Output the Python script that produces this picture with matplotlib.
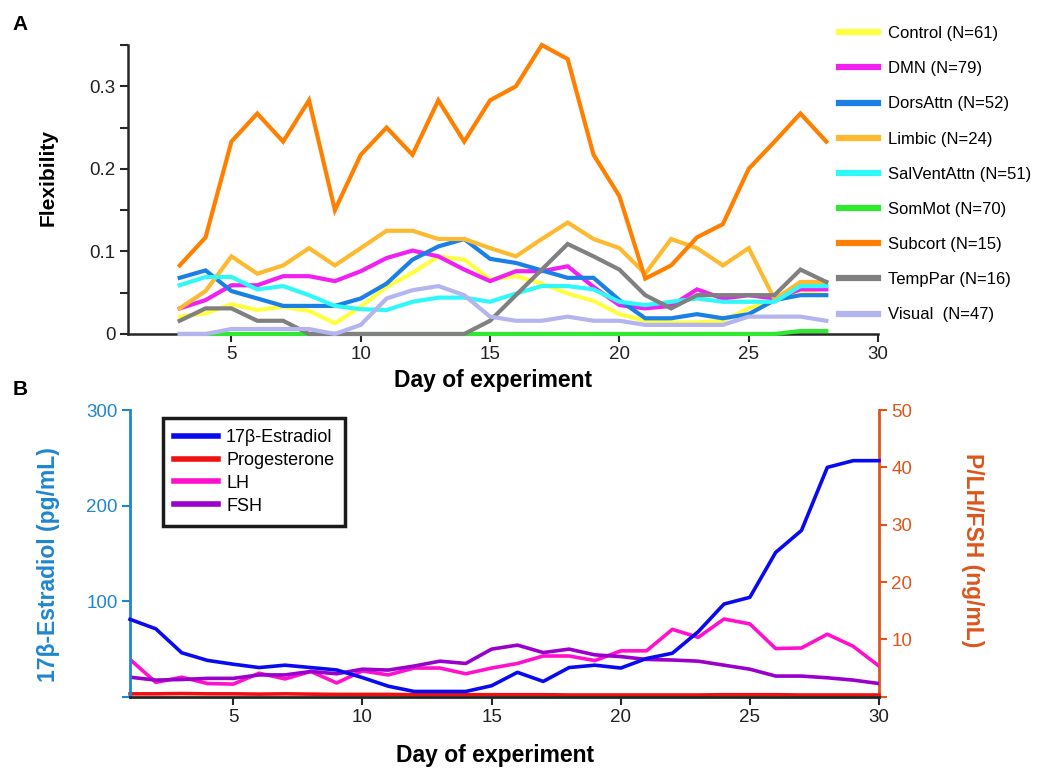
import matplotlib
matplotlib.use("Agg")
import matplotlib.pyplot as plt
import numpy as np

plt.rcParams['font.family'] = ['Liberation Sans', 'DejaVu Sans']

# ---------------- Panel A: network flexibility ----------------
days_a = list(range(3, 29))
networks = ["Control (N=61)", "DMN (N=79)", "DorsAttn (N=52)", "Limbic (N=24)",
            "SalVentAttn (N=51)", "SomMot (N=70)", "Subcort (N=15)",
            "TempPar (N=16)", "Visual  (N=47)"]
net_colors = ['#FFFF40', '#F020F0', '#1A80E6', '#FDBA30', '#30F8F8',
              '#30E830', '#FF8000', '#808080', '#B4B4EE']

control = [0.021, 0.025, 0.036, 0.029, 0.033, 0.028, 0.013, 0.033, 0.057, 0.074,
           0.094, 0.090, 0.066, 0.070, 0.061, 0.049, 0.040, 0.024, 0.016, 0.014,
           0.014, 0.016, 0.031, 0.041, 0.053, 0.047]
dmn = [0.031, 0.041, 0.059, 0.059, 0.070, 0.070, 0.064, 0.076, 0.092, 0.101,
       0.094, 0.078, 0.064, 0.076, 0.076, 0.082, 0.057, 0.035, 0.031, 0.034,
       0.054, 0.043, 0.047, 0.043, 0.054, 0.054]
dorsattn = [0.068, 0.077, 0.052, 0.043, 0.034, 0.034, 0.034, 0.043, 0.061, 0.090,
            0.106, 0.115, 0.091, 0.086, 0.077, 0.068, 0.068, 0.041, 0.019, 0.019,
            0.024, 0.019, 0.024, 0.041, 0.047, 0.047]
limbic = [0.031, 0.052, 0.094, 0.073, 0.083, 0.104, 0.083, 0.104, 0.125, 0.125,
          0.115, 0.115, 0.104, 0.094, 0.115, 0.135, 0.115, 0.104, 0.073, 0.115,
          0.104, 0.083, 0.104, 0.042, 0.063, 0.063]
salventattn = [0.059, 0.069, 0.069, 0.054, 0.058, 0.047, 0.034, 0.030, 0.029, 0.039,
               0.044, 0.044, 0.039, 0.049, 0.058, 0.058, 0.054, 0.039, 0.035, 0.039,
               0.043, 0.039, 0.039, 0.039, 0.058, 0.058]
sommot = [0.0] * 24 + [0.0036, 0.0036]
subcort = [0.083, 0.117, 0.233, 0.267, 0.233, 0.283, 0.150, 0.217, 0.250, 0.217,
           0.283, 0.233, 0.283, 0.300, 0.350, 0.333, 0.217, 0.167, 0.067, 0.083,
           0.117, 0.133, 0.200, 0.233, 0.267, 0.233]
temppar = [0.016, 0.031, 0.031, 0.016, 0.016, 0.0, 0.0, 0.0, 0.0, 0.0,
           0.0, 0.0, 0.016, 0.047, 0.078, 0.109, 0.094, 0.078, 0.047, 0.031,
           0.047, 0.047, 0.047, 0.047, 0.078, 0.063]
visual = [0.0, 0.0, 0.006, 0.006, 0.006, 0.006, 0.0, 0.011, 0.043, 0.053,
          0.058, 0.047, 0.021, 0.016, 0.016, 0.021, 0.016, 0.016, 0.011, 0.011,
          0.011, 0.011, 0.021, 0.021, 0.021, 0.016]
flex_series = [control, dmn, dorsattn, limbic, salventattn, sommot, subcort,
               temppar, visual]

# ---------------- Panel B: hormone levels ----------------
days_b = list(range(1, 31))
estradiol = [81, 71, 46, 38, 34, 30.5, 33, 30.5, 28, 20, 11, 5.5, 5.5, 5.5, 11.5,
             25.5, 16, 30.5, 33, 30, 40, 45.5, 68, 97, 104, 151, 174, 240, 247, 247]
progesterone = [0.5, 0.5, 0.55, 0.5, 0.5, 0.45, 0.5, 0.45, 0.4, 0.4, 0.4, 0.35,
                0.35, 0.35, 0.35, 0.35, 0.35, 0.3, 0.3, 0.3, 0.3, 0.3, 0.3, 0.35,
                0.35, 0.35, 0.3, 0.3, 0.3, 0.3]
lh = [6.5, 2.5, 3.4, 2.3, 2.2, 4.1, 3.1, 4.4, 2.4, 4.5, 3.8, 5.0, 5.0, 4.0, 5.0,
      5.8, 7.1, 7.1, 6.3, 8.0, 8.0, 11.75, 10.35, 13.55, 12.7, 8.4, 8.5, 10.9,
      8.8, 5.35]
fsh = [3.4, 2.9, 3.0, 3.2, 3.2, 3.8, 3.8, 4.4, 4.0, 4.8, 4.65, 5.35, 6.2, 5.8,
       8.3, 9.0, 7.7, 8.3, 7.3, 7.0, 6.5, 6.4, 6.2, 5.5, 4.8, 3.6, 3.6, 3.3, 2.9, 2.3]
hormone_labels = ["17β-Estradiol", "Progesterone", "LH", "FSH"]
hormone_colors = ['#0A0AF0', '#F01010', '#FF10CC', '#9A00CC']

left_color = '#1F86CF'
right_color = '#DC561E'
spine_color = '#262626'

TICK_FS = 13.5
LABEL_FS = 16.5

fig = plt.figure(figsize=(10.37, 7.69), dpi=100)

# ---- Panel A ----
axA = fig.add_axes([0.1234, 0.5657, 0.7233, 0.3758])
lines_a = []
for name, col, vals in zip(networks, net_colors, flex_series):
    ln, = axA.plot(days_a, vals, color=col, lw=3.0, label=name,
                   solid_joinstyle='miter', clip_on=False, zorder=3)
    lines_a.append(ln)
axA.set_xlim(1, 30)
axA.set_ylim(0, 0.35)
axA.set_xticks([5, 10, 15, 20, 25, 30])
axA.set_yticks([0, 0.1, 0.2, 0.3])
axA.set_yticklabels(['0', '0.1', '0.2', '0.3'])
axA.set_yticks([0.05, 0.15, 0.25, 0.35], minor=True)
for s in ['top', 'right']:
    axA.spines[s].set_visible(False)
for s in ['left', 'bottom']:
    axA.spines[s].set_linewidth(1.8)
    axA.spines[s].set_color(spine_color)
axA.tick_params(which='both', direction='out', length=5.5, width=1.5,
                color=spine_color, labelsize=TICK_FS, labelcolor='#222222')
axA.set_xlabel("Day of experiment", fontsize=LABEL_FS, fontweight='bold')
axA.set_ylabel("Flexibility", fontsize=15, fontweight='bold')
axA.xaxis.set_label_coords(0.487, -0.121)
axA.yaxis.set_label_coords(-0.094, 0.54)

legA = fig.legend(handles=lines_a, loc='upper left',
                  bbox_to_anchor=(0.809, 0.966), frameon=False, fontsize=12,
                  handlelength=2.35, handletextpad=0.6, labelspacing=1.21,
                  borderpad=0, borderaxespad=0)
for ln in legA.get_lines():
    ln.set_linewidth(4.5)

# ---- Panel B ----
axB = fig.add_axes([0.1254, 0.094, 0.7222, 0.3728])
axB2 = axB.twinx()
lnE, = axB.plot(days_b, estradiol, color=hormone_colors[0], lw=2.6, zorder=4,
                clip_on=False)
lnP, = axB2.plot(days_b, progesterone, color=hormone_colors[1], lw=2.6,
                 zorder=3, clip_on=False)
lnL, = axB2.plot(days_b, lh, color=hormone_colors[2], lw=2.6, zorder=3)
lnF, = axB2.plot(days_b, fsh, color=hormone_colors[3], lw=2.6, zorder=3)
axB.set_zorder(axB2.get_zorder() + 1)
axB.patch.set_visible(False)

axB.set_xlim(1, 30)
axB.set_ylim(0, 300)
axB2.set_ylim(0, 50)
axB.set_xticks([5, 10, 15, 20, 25, 30])
axB.set_yticks([0, 100, 200, 300])
axB.set_yticklabels(['', '100', '200', '300'])
axB2.set_yticks([0, 10, 20, 30, 40, 50])
axB2.set_yticklabels(['', '10', '20', '30', '40', '50'])

for ax in (axB, axB2):
    ax.spines['top'].set_visible(False)
axB.spines['right'].set_visible(False)
axB2.spines['left'].set_visible(False)
axB2.spines['bottom'].set_visible(False)
axB.spines['left'].set_color(left_color)
axB.spines['left'].set_linewidth(2.0)
axB.spines['bottom'].set_color(spine_color)
axB.spines['bottom'].set_linewidth(2.0)
axB2.spines['right'].set_color(right_color)
axB2.spines['right'].set_linewidth(2.0)

axB.tick_params(axis='x', direction='out', length=5.5, width=1.5,
                color=spine_color, labelsize=TICK_FS, labelcolor='#222222')
axB.tick_params(axis='y', direction='out', length=5.5, width=1.5,
                color=left_color, labelsize=TICK_FS, labelcolor=left_color)
axB2.tick_params(axis='y', direction='out', length=5.5, width=1.5,
                 color=right_color, labelsize=TICK_FS, labelcolor=right_color)

axB.set_xlabel("Day of experiment", fontsize=LABEL_FS, fontweight='bold')
axB.xaxis.set_label_coords(0.487, -0.164)
axB.set_ylabel("17β-Estradiol (pg/mL)", fontsize=LABEL_FS, fontweight='bold',
               color=left_color)
axB.yaxis.set_label_coords(-0.093, 0.46)
axB2.set_ylabel("P/LH/FSH (ng/mL)", fontsize=LABEL_FS, fontweight='bold',
                color=right_color, rotation=270, va='center')
axB2.yaxis.set_label_coords(1.125, 0.512)

legB = axB.legend([lnE, lnP, lnL, lnF], hormone_labels, loc='upper left',
                  bbox_to_anchor=(0.157, 0.4564),
                  bbox_transform=fig.transFigure, fontsize=13,
                  fancybox=False, framealpha=1, edgecolor='#1a1a1a',
                  handlelength=2.45, handletextpad=0.45, labelspacing=0.33,
                  borderpad=0.6, borderaxespad=0)
legB.get_frame().set_linewidth(2.5)
for ln in legB.get_lines():
    ln.set_linewidth(4.0)

fig.text(0.012, 0.968, "A", fontsize=15, fontweight='bold', va='center')
fig.text(0.012, 0.494, "B", fontsize=15, fontweight='bold', va='center')

fig.savefig("out.png", dpi=100)
